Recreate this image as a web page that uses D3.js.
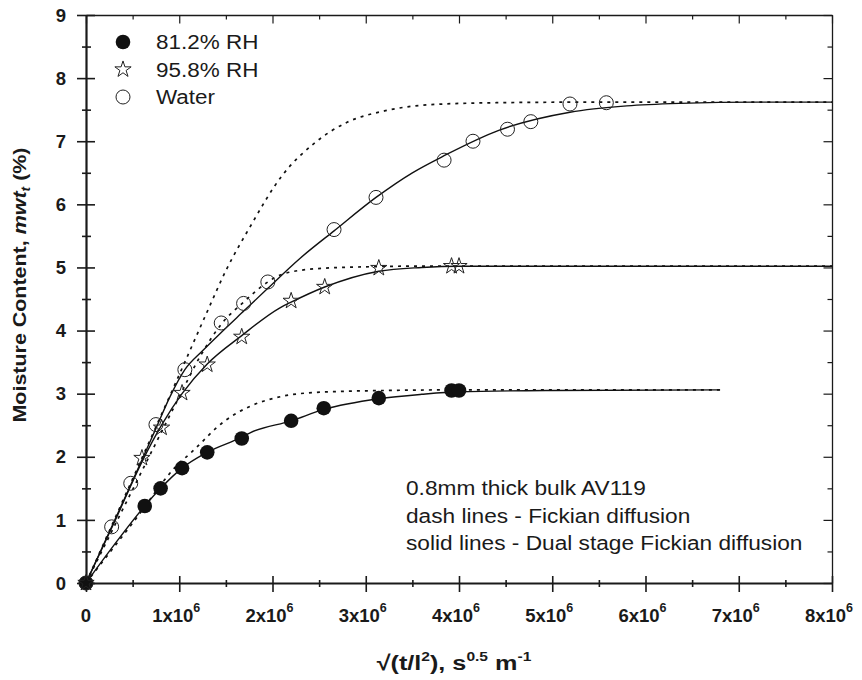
<!DOCTYPE html>
<html>
<head>
<meta charset="utf-8">
<script src="https://cdn.jsdelivr.net/npm/d3@7"></script>
<style>
  body { margin: 0; background: #fff; }
  svg { display: block; font-family: "Liberation Sans", Arial, sans-serif; }
</style>
</head>
<body>
<div id="chart"></div>
<script>
// x values are sqrt(t/l^2) in units of 10^6 s^0.5 m^-1, y values are moisture content %
const rh81_x = [0, 0.63, 0.80, 1.03, 1.30, 1.67, 2.20, 2.55, 3.14, 3.92, 4.00];
const rh81_y = [0, 1.22, 1.50, 1.82, 2.07, 2.29, 2.57, 2.77, 2.93, 3.05, 3.05];

const rh96_x = [0, 0.60, 0.81, 1.03, 1.30, 1.67, 2.20, 2.56, 3.14, 3.92, 4.00];
const rh96_y = [0, 1.98, 2.46, 3.01, 3.46, 3.90, 4.47, 4.69, 4.99, 5.02, 5.02];

const water_x = [0, 0.275, 0.48, 0.75, 1.06, 1.45, 1.69, 1.95, 2.66, 3.11, 3.84, 4.15, 4.52, 4.77, 5.19, 5.58];
const water_y = [0, 0.89, 1.58, 2.51, 3.38, 4.12, 4.43, 4.77, 5.60, 6.11, 6.70, 7.00, 7.19, 7.31, 7.59, 7.61];

// fitted curves
const rh81_fick_x = [0, 0.5, 1.0, 1.13, 1.22, 1.40, 1.49, 1.76, 2.11, 2.47, 3.19, 4.0, 5.0, 6.8];
const rh81_fick_y = [0, 0.95, 1.9, 2.07, 2.2, 2.46, 2.57, 2.80, 2.96, 3.02, 3.05, 3.06, 3.06, 3.06];
const rh81_dual_x = [0, 0.3, 0.63, 0.80, 1.03, 1.30, 1.67, 1.76, 2.20, 2.55, 3.14, 3.6, 4.0, 5.0, 6.8];
const rh81_dual_y = [0, 0.6, 1.22, 1.50, 1.82, 2.07, 2.31, 2.38, 2.57, 2.75, 2.92, 2.99, 3.03, 3.05, 3.06];

const rh96_fick_x = [0, 0.5, 1.0, 1.22, 1.45, 1.69, 1.95, 2.10, 2.47, 3.0, 3.5, 4.0, 8.0];
const rh96_fick_y = [0, 1.48, 2.95, 3.58, 4.1, 4.45, 4.77, 4.89, 4.98, 5.01, 5.02, 5.02, 5.02];
const rh96_dual_x = [0, 0.3, 0.6, 0.81, 1.03, 1.30, 1.67, 2.08, 2.20, 2.56, 3.14, 3.6, 4.0, 5.0, 8.0];
const rh96_dual_y = [0, 0.95, 1.92, 2.5, 3.0, 3.47, 3.92, 4.36, 4.45, 4.69, 4.94, 5.0, 5.02, 5.02, 5.02];

const water_fick_x = [0, 0.5, 1.0, 1.3, 1.5, 1.75, 2.1, 2.45, 2.8, 3.2, 3.7, 4.4, 5.5, 8.0];
const water_fick_y = [0, 1.65, 3.3, 4.3, 4.95, 5.62, 6.45, 6.97, 7.3, 7.48, 7.58, 7.61, 7.62, 7.62];
const water_dual_x = [0, 0.3, 0.5, 0.75, 0.9, 1.06, 1.25, 1.45, 1.7, 1.95, 2.3, 2.66, 3.11, 3.5, 3.84, 4.44, 5.19, 5.8, 6.37, 7.2, 8.0];
const water_dual_y = [0, 0.97, 1.62, 2.45, 2.95, 3.38, 3.68, 3.97, 4.32, 4.67, 5.15, 5.58, 6.11, 6.5, 6.77, 7.18, 7.46, 7.56, 7.6, 7.62, 7.62];

const xTicks = [0, 1, 2, 3, 4, 5, 6, 7, 8];
const yTicks = [0, 1, 2, 3, 4, 5, 6, 7, 8, 9];
const legendNames = ["81.2% RH", "95.8% RH", "Water"];
const noteLines = ["0.8mm thick bulk AV119", "dash lines - Fickian diffusion", "solid lines - Dual stage Fickian diffusion"];

const zip = (xs, ys) => xs.map((v, i) => ({x: v, y: ys[i]}));

const W = 862, H = 680;
const margin = {top: 15, right: 30, bottom: 97, left: 86};
const width = W - margin.left - margin.right,
    height = H - margin.top - margin.bottom;

const svg = d3.select("#chart").append("svg")
    .attr("width", W)
    .attr("height", H);

const g = svg.append("g")
    .attr("transform", "translate(" + margin.left + "," + margin.top + ")");

const xScale = d3.scaleLinear().domain([0, 8]).range([0, width]);
const yScale = d3.scaleLinear().domain([0, 9]).range([height, 0]);

const minorX = d3.range(0, 8.01, 0.5);
const minorY = d3.range(0, 9.01, 0.5);
const isMajor = d => Math.abs(d - Math.round(d)) < 1e-6;

// bottom axis, ticks crossing the line
const axBottom = g.append("g")
    .attr("transform", "translate(0," + height + ")")
    .call(d3.axisBottom(xScale).tickValues(minorX).tickSizeOuter(0).tickFormat(""));
axBottom.selectAll(".tick line")
    .attr("y1", d => isMajor(d) ? -7 : -3)
    .attr("y2", d => isMajor(d) ? 9 : 4)
    .attr("stroke-width", 1.6);
axBottom.select(".domain").attr("stroke-width", 2.2);

// left axis
const axLeft = g.append("g")
    .call(d3.axisLeft(yScale).tickValues(minorY).tickSizeOuter(0).tickFormat(""));
axLeft.selectAll(".tick line")
    .attr("x1", d => isMajor(d) ? 9 : 5)
    .attr("x2", d => isMajor(d) ? -9 : -4)
    .attr("stroke-width", 1.6);
axLeft.select(".domain").attr("stroke-width", 2.2);

// top and right axes, ticks inward
const axTop = g.append("g")
    .call(d3.axisBottom(xScale).tickValues(minorX).tickSizeOuter(0).tickFormat(""));
axTop.selectAll(".tick line").attr("y2", d => isMajor(d) ? 8.5 : 4.5).attr("stroke-width", 1.2);
axTop.select(".domain").attr("stroke-width", 1.3);

const axRight = g.append("g")
    .attr("transform", "translate(" + width + ",0)")
    .call(d3.axisRight(yScale).tickValues(minorY).tickSizeOuter(0).tickFormat(""));
axRight.selectAll(".tick line").attr("x2", d => isMajor(d) ? -8.5 : -4.5).attr("stroke-width", 1.2);
axRight.select(".domain").attr("stroke-width", 1.3);

g.selectAll(".domain").attr("stroke", "#1a1a1a");
g.selectAll(".tick line").attr("stroke", "#1a1a1a");

// tick labels
g.selectAll(".ylab")
    .data(yTicks)
    .join("text")
    .attr("class", "ylab")
    .attr("x", -20)
    .attr("y", d => yScale(d))
    .attr("dy", "0.36em")
    .attr("text-anchor", "end")
    .attr("font-size", 18.5)
    .attr("font-weight", "bold")
    .attr("fill", "#1a1a1a")
    .text(d => d);

const xl = g.selectAll(".xlab")
    .data(xTicks)
    .join("text")
    .attr("class", "xlab")
    .attr("x", d => xScale(d) - (d ? 3 : 0))
    .attr("y", height + 39)
    .attr("text-anchor", "middle")
    .attr("font-size", 18.5)
    .attr("font-weight", "bold")
    .attr("fill", "#1a1a1a");
xl.append("tspan").text(d => d === 0 ? "0" : d + "x10");
xl.filter(d => d !== 0).append("tspan")
    .attr("dy", -10)
    .attr("font-size", 12.5)
    .text("6");

// curves
const line = d3.line()
    .x(d => xScale(d.x))
    .y(d => yScale(d.y))
    .curve(d3.curveMonotoneX);

const plot = g.append("g");

const fickian = [zip(rh81_fick_x, rh81_fick_y), zip(rh96_fick_x, rh96_fick_y), zip(water_fick_x, water_fick_y)];
const dual = [zip(rh81_dual_x, rh81_dual_y), zip(rh96_dual_x, rh96_dual_y), zip(water_dual_x, water_dual_y)];

plot.selectAll(".fick")
    .data(fickian)
    .join("path")
    .attr("class", "fick")
    .attr("d", line)
    .attr("fill", "none")
    .attr("stroke", "#111")
    .attr("stroke-width", 1.7)
    .attr("stroke-dasharray", "3,5");

plot.selectAll(".dual")
    .data(dual)
    .join("path")
    .attr("class", "dual")
    .attr("d", line)
    .attr("fill", "none")
    .attr("stroke", "#111")
    .attr("stroke-width", 1.4);

// markers
const star = d3.symbol().type(d3.symbolStar).size(82);

plot.selectAll(".pt81")
    .data(zip(rh81_x, rh81_y))
    .join("circle")
    .attr("class", "pt81")
    .attr("cx", d => xScale(d.x))
    .attr("cy", d => yScale(d.y))
    .attr("r", 7.3)
    .attr("fill", "#111");

plot.selectAll(".pt96")
    .data(zip(rh96_x, rh96_y))
    .join("path")
    .attr("class", "pt96")
    .attr("transform", d => "translate(" + xScale(d.x) + "," + yScale(d.y) + ")")
    .attr("d", star)
    .attr("fill", "none")
    .attr("stroke", "#222")
    .attr("stroke-width", 1);

plot.selectAll(".ptw")
    .data(zip(water_x, water_y))
    .join("circle")
    .attr("class", "ptw")
    .attr("cx", d => xScale(d.x))
    .attr("cy", d => yScale(d.y))
    .attr("r", 7)
    .attr("fill", "none")
    .attr("stroke", "#222")
    .attr("stroke-width", 1);

// legend
const legend = g.append("g").attr("transform", "translate(37,27)");
legendNames.forEach((name, i) => {
    const row = legend.append("g").attr("transform", "translate(0," + (i * 27.5) + ")");
    if (i === 0) row.append("circle").attr("r", 7.3).attr("fill", "#111");
    if (i === 1) row.append("path").attr("d", star).attr("fill", "none").attr("stroke", "#222");
    if (i === 2) row.append("circle").attr("r", 7).attr("fill", "none").attr("stroke", "#222");
    row.append("text")
        .attr("transform", "translate(33,7) scale(1.07,1)")
        .attr("font-size", 21)
        .attr("fill", "#1a1a1a")
        .text(name);
});

// note
g.append("g").selectAll("text")
    .data(noteLines)
    .join("text")
    .attr("transform", (d, i) => "translate(320," + (480 + i * 27.5) + ") scale(1.08,1)")
    .attr("font-size", 21)
    .attr("fill", "#1a1a1a")
    .text(d => d);

// axis titles
const xt = svg.append("text")
    .attr("transform", "translate(454,670) scale(1.2,1)")
    .attr("text-anchor", "middle")
    .attr("font-size", 21)
    .attr("font-weight", "bold")
    .attr("fill", "#1a1a1a");
xt.append("tspan").text("\u221A(t/l");
xt.append("tspan").attr("dy", -9).attr("font-size", 13).text("2");
xt.append("tspan").attr("dy", 9).text("), s");
xt.append("tspan").attr("dy", -9).attr("font-size", 13).text("0.5");
xt.append("tspan").attr("dy", 9).text(" m");
xt.append("tspan").attr("dy", -9).attr("font-size", 13).text("-1");

const yt = svg.append("text")
    .attr("transform", "translate(26,285) rotate(-90) scale(1.16,1)")
    .attr("text-anchor", "middle")
    .attr("font-size", 18.5)
    .attr("font-weight", "bold")
    .attr("fill", "#1a1a1a");
yt.append("tspan").text("Moisture Content, ");
yt.append("tspan").attr("font-style", "italic").text("mwt");
yt.append("tspan").attr("font-style", "italic").attr("font-size", 12).attr("dy", 4).text("t");
yt.append("tspan").attr("dy", -4).text(" (%)");
</script>
</body>
</html>
